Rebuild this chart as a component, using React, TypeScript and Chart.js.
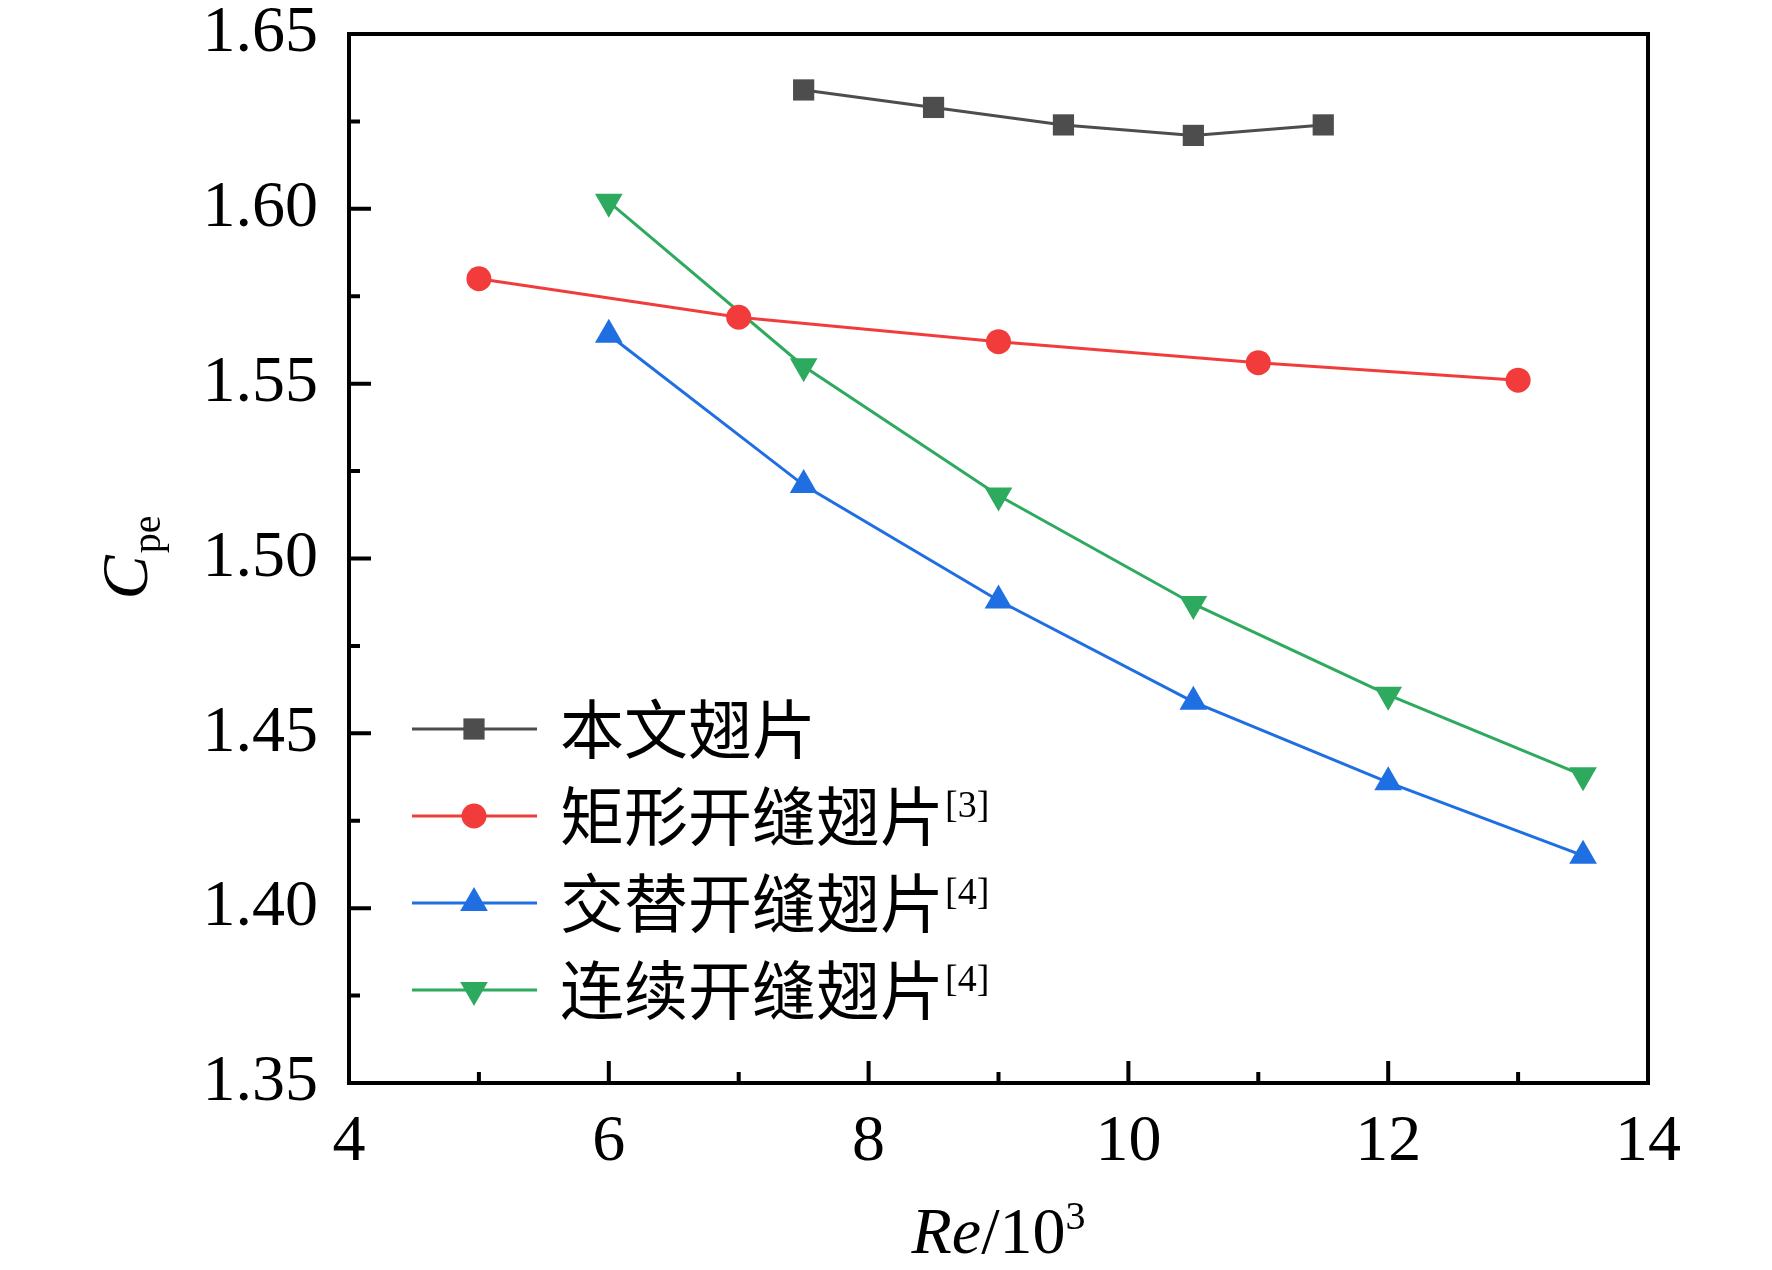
import React, { useEffect, useRef } from 'react';
import { Chart, registerables } from 'chart.js';
import { drawPoint } from 'chart.js/helpers';

Chart.register(...registerables);

// Re/10^3 values of each series
const reOurs = [7.5, 8.5, 9.5, 10.5, 11.5];
const cpeOurs = [1.634, 1.629, 1.624, 1.621, 1.624];

const reRect = [5, 7, 9, 11, 13];
const cpeRect = [1.58, 1.569, 1.562, 1.556, 1.551];

const reAlt = [6, 7.5, 9, 10.5, 12, 13.5];
const cpeAlt = [1.564, 1.521, 1.488, 1.459, 1.436, 1.415];

const reCont = [6, 7.5, 9, 10.5, 12, 13.5];
const cpeCont = [1.602, 1.555, 1.518, 1.487, 1.461, 1.438];

const legendLabels = ['本文翅片', '矩形开缝翅片', '交替开缝翅片', '连续开缝翅片'];
const legendRefs = ['', '[3]', '[4]', '[4]'];

const xTicks = { min: 4, max: 14, step: 2 };
const yTicks = { min: 1.35, max: 1.65, step: 0.05 };

const SERIF = '"Liberation Serif", "Times New Roman", serif';
const CJK = '"Noto Sans CJK SC", sans-serif';

const toPoints = (xs: number[], ys: number[]) => xs.map((x, i) => ({ x, y: ys[i] }));

const framePlugin = {
  id: 'frame',
  afterDraw(chart: any) {
    const { ctx, chartArea } = chart;
    const { left, right, top, bottom } = chartArea;
    const xs = chart.scales.x;
    const ys = chart.scales.y;
    ctx.save();
    ctx.strokeStyle = '#000';
    ctx.lineWidth = 4;
    ctx.lineCap = 'butt';
    // inner ticks, major and minor
    ctx.beginPath();
    for (let v = xTicks.min; v <= xTicks.max + 1e-9; v += xTicks.step / 2) {
      const px = xs.getPixelForValue(v);
      const k = (v - xTicks.min) / xTicks.step;
      const major = Math.abs(k - Math.round(k)) < 1e-6;
      ctx.moveTo(px, bottom);
      ctx.lineTo(px, bottom - (major ? 22 : 11));
    }
    for (let v = yTicks.min; v <= yTicks.max + 1e-9; v += yTicks.step / 2) {
      const py = ys.getPixelForValue(v);
      const k = (v - yTicks.min) / yTicks.step;
      const major = Math.abs(k - Math.round(k)) < 1e-6;
      ctx.moveTo(left, py);
      ctx.lineTo(left + (major ? 22 : 11), py);
    }
    ctx.stroke();
    ctx.strokeRect(left, top, right - left, bottom - top);

    // x title: Re/10^3
    ctx.fillStyle = '#000';
    ctx.textBaseline = 'alphabetic';
    ctx.textAlign = 'left';
    const big = 66;
    const small = 40;
    ctx.font = `italic ${big}px ${SERIF}`;
    const wRe = ctx.measureText('Re').width;
    ctx.font = `${big}px ${SERIF}`;
    const wSlash = ctx.measureText('/10').width;
    ctx.font = `${small}px ${SERIF}`;
    const w3 = ctx.measureText('3').width;
    const cx = (left + right) / 2;
    const x0 = cx - (wRe + wSlash + w3) / 2;
    const by = 1253;
    ctx.font = `italic ${big}px ${SERIF}`;
    ctx.fillText('Re', x0, by);
    ctx.font = `${big}px ${SERIF}`;
    ctx.fillText('/10', x0 + wRe, by);
    ctx.font = `${small}px ${SERIF}`;
    ctx.fillText('3', x0 + wRe + wSlash, by - 24);

    // y title: C_pe
    ctx.save();
    ctx.translate(147, (top + bottom) / 2);
    ctx.rotate(-Math.PI / 2);
    ctx.font = `italic ${big}px ${SERIF}`;
    const wC = ctx.measureText('C').width;
    ctx.font = `${small}px ${SERIF}`;
    const wPe = ctx.measureText('pe').width;
    const s0 = -(wC + wPe) / 2;
    ctx.font = `italic ${big}px ${SERIF}`;
    ctx.fillText('C', s0, 0);
    ctx.font = `${small}px ${SERIF}`;
    ctx.fillText('pe', s0 + wC + 2, 13);
    ctx.restore();

    // legend
    const rowY0 = 729;
    const rowGap = 87;
    chart.data.datasets.forEach((ds: any, i: number) => {
      const y = rowY0 + i * rowGap;
      ctx.strokeStyle = ds.borderColor;
      ctx.lineWidth = 3;
      ctx.beginPath();
      ctx.moveTo(412, y);
      ctx.lineTo(537, y);
      ctx.stroke();
      ctx.fillStyle = ds.backgroundColor;
      drawPoint(ctx, {
        pointStyle: ds.pointStyle,
        radius: ds.pointRadius,
        rotation: ds.pointRotation || 0,
        borderWidth: 0,
      }, 474, y);
      ctx.fillStyle = '#000';
      ctx.textBaseline = 'middle';
      ctx.font = `64px ${CJK}`;
      ctx.fillText(legendLabels[i], 560, y);
      const w = ctx.measureText(legendLabels[i]).width;
      if (legendRefs[i]) {
        ctx.textBaseline = 'top';
        ctx.font = `38px ${SERIF}`;
        ctx.fillText(legendRefs[i], 560 + w + 1, y - 28);
      }
    });
    ctx.restore();
  },
};

const App: React.FC = () => {
  const chartRef = useRef<HTMLCanvasElement>(null);
  const chartInstance = useRef<Chart | null>(null);

  useEffect(() => {
    document.body.style.margin = '0';
    if (!chartRef.current) return;
    if (chartInstance.current) chartInstance.current.destroy();

    const lineSet = (data: any, color: string, style: string, radius: number, rotation = 0) => ({
      data,
      borderColor: color,
      backgroundColor: color,
      borderWidth: 3,
      pointStyle: style,
      pointRadius: radius,
      pointRotation: rotation,
      pointBorderWidth: 0,
      pointBackgroundColor: color,
      tension: 0,
    });

    chartInstance.current = new Chart(chartRef.current, {
      type: 'line',
      data: {
        datasets: [
          lineSet(toPoints(reOurs, cpeOurs), '#4d4d4d', 'rect', 15),
          lineSet(toPoints(reRect, cpeRect), '#f23c3c', 'circle', 12.5),
          lineSet(toPoints(reAlt, cpeAlt), '#1f6fe3', 'triangle', 16),
          lineSet(toPoints(reCont, cpeCont), '#2eaa5f', 'triangle', 16, 180),
        ] as any,
      },
      options: {
        animation: false,
        responsive: true,
        maintainAspectRatio: false,
        layout: { padding: { top: 34, right: 124, left: 0, bottom: 0 } },
        plugins: { legend: { display: false }, tooltip: { enabled: false } },
        scales: {
          x: {
            type: 'linear',
            min: xTicks.min,
            max: xTicks.max,
            grid: { display: false, drawTicks: false },
            border: { display: false },
            ticks: {
              stepSize: xTicks.step,
              padding: 20,
              color: '#000',
              font: { family: SERIF, size: 66 },
              maxRotation: 0,
            },
            afterFit: (scale: any) => {
              scale.height = 187;
              scale.paddingLeft = 0;
              scale.paddingRight = 0;
            },
          },
          y: {
            type: 'linear',
            min: yTicks.min,
            max: yTicks.max,
            grid: { display: false, drawTicks: false },
            border: { display: false },
            ticks: {
              stepSize: yTicks.step,
              padding: 31,
              color: '#000',
              font: { family: SERIF, size: 66 },
              callback: (v: any) => Number(v).toFixed(2),
            },
            afterFit: (scale: any) => {
              scale.width = 349;
              scale.paddingTop = 0;
              scale.paddingBottom = 0;
            },
          },
        },
      },
      plugins: [framePlugin],
    });

    return () => {
      if (chartInstance.current) {
        chartInstance.current.destroy();
        chartInstance.current = null;
      }
    };
  }, []);

  return (
    <div style={{ width: 1772, height: 1270, position: 'relative', background: '#fff' }}>
      <canvas ref={chartRef}></canvas>
    </div>
  );
};

export default App;
